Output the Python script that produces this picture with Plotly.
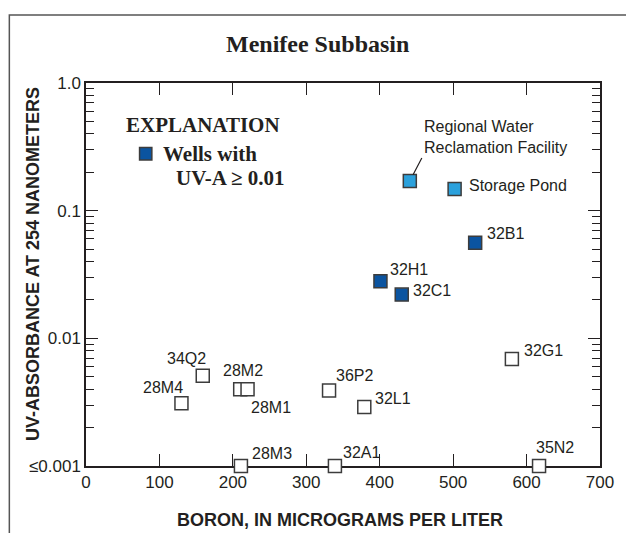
import math
import plotly.graph_objects as go

# ---- data -------------------------------------------------------------
# Wells with UV-A >= 0.01 (dark blue)
high_names = ["32H1", "32C1", "32B1"]
high_boron = [401, 430, 530]
high_uva = [0.028, 0.022, 0.056]

# Recycled-water sources (light blue)
src_names = ["Regional Water<br>Reclamation Facility", "Storage Pond"]
src_boron = [441, 502]
src_uva = [0.171, 0.148]

# Other wells (open squares); 0.001 means at or below 0.001
low_names = ["28M4", "34Q2", "28M2", "28M1", "36P2", "32L1", "32G1",
             "28M3", "32A1", "35N2"]
low_boron = [130, 159, 210, 220, 331, 379, 580, 211, 339, 617]
low_uva = [0.0031, 0.0051, 0.0040, 0.0040, 0.0039, 0.0029, 0.0069,
           0.001, 0.001, 0.001]

x_ticks = [0, 100, 200, 300, 400, 500, 600, 700]
y_ticks = [0.001, 0.01, 0.1, 1.0]
y_ticktext = ["\u22640.001", "0.01", "0.1", "1.0"]

# ---- styling ----------------------------------------------------------
W, H = 626, 533
L, R, T, B = 86, 609, 83, 466          # plot area in pixels
INK = "#231f20"
DARK_BLUE = "#0b54a0"
LIGHT_BLUE = "#2ba1dc"
SANS = "Liberation Sans Narrow, Arial Narrow, Liberation Sans, Arial"
SERIF = "Liberation Serif, Times New Roman, serif"


def px(p):
    return (p - L) / (R - L)


def py(p):
    return (B - p) / (B - T)


marker_line = dict(color="#3c3c3c", width=1.5)

fig = go.Figure()
fig.add_trace(go.Scatter(
    x=low_boron, y=low_uva, mode="markers", cliponaxis=False,
    marker=dict(symbol="square", size=13, color="white", line=marker_line),
    hoverinfo="skip", showlegend=False))
fig.add_trace(go.Scatter(
    x=src_boron, y=src_uva, mode="markers", cliponaxis=False,
    marker=dict(symbol="square", size=13, color=LIGHT_BLUE, line=marker_line),
    hoverinfo="skip", showlegend=False))
fig.add_trace(go.Scatter(
    x=high_boron, y=high_uva, mode="markers", cliponaxis=False,
    marker=dict(symbol="square", size=13, color=DARK_BLUE, line=marker_line),
    hoverinfo="skip", showlegend=False))

# label offsets (pixels) relative to each point: (anchor, dx, dy)
label_offsets = {
    "32H1": ("left", 8, 12), "32C1": ("left", 9, 4), "32B1": ("left", 10, 9),
    "Storage Pond": ("left", 12, 3),
    "28M4": ("right", 4, 16), "34Q2": ("right", 5, 17), "28M2": ("left", -19, 19),
    "28M1": ("left", 1, -18), "36P2": ("left", 5, 15), "32L1": ("left", 9, 8),
    "32G1": ("left", 10, 8), "28M3": ("left", 9, 13), "32A1": ("left", 6, 14),
    "35N2": ("left", -5, 19),
}
label_font = dict(family=SANS, size=16, color=INK)

annotations = []
# annotations on a log axis take log10 of the value
for names, xs, ys in [(high_names, high_boron, high_uva),
                      (low_names, low_boron, low_uva)]:
    for n, xv, yv in zip(names, xs, ys):
        anchor, dx, dy = label_offsets[n]
        annotations.append(dict(x=xv, y=math.log10(yv), xref="x", yref="y",
                                text=n, showarrow=False, xanchor=anchor,
                                yanchor="middle", xshift=dx, yshift=dy,
                                font=label_font))

# Storage Pond label
anchor, dx, dy = label_offsets["Storage Pond"]
annotations.append(dict(x=src_boron[1], y=math.log10(src_uva[1]),
                        xref="x", yref="y", text=src_names[1],
                        showarrow=False, xanchor=anchor, yanchor="middle",
                        xshift=dx, yshift=dy, font=label_font))
# Reclamation facility label with leader line
annotations.append(dict(x=src_boron[0], y=math.log10(src_uva[0]),
                        xref="x", yref="y", text=src_names[0],
                        showarrow=True, arrowhead=0, arrowwidth=1.2,
                        arrowcolor=INK, standoff=7, ax=12, ay=-23,
                        xanchor="left", yanchor="bottom", align="left",
                        font=label_font))

# title, axis titles and explanation
annotations += [
    dict(xref="paper", yref="paper", x=px(322), y=py(44), text="<b>Menifee Subbasin</b>",
         showarrow=False, xanchor="center", yanchor="middle",
         font=dict(family=SERIF, size=24, color=INK)),
    dict(xref="paper", yref="paper", x=px(344), y=py(520),
         text="<b>BORON, IN MICROGRAMS PER LITER</b>", showarrow=False,
         xanchor="center", yanchor="middle",
         font=dict(family=SANS, size=18, color=INK)),
    dict(xref="paper", yref="paper", x=px(32), y=py(264),
         text="<b>UV-ABSORBANCE AT 254 NANOMETERS</b>", showarrow=False,
         textangle=-90, xanchor="center", yanchor="middle",
         font=dict(family=SANS, size=18, color=INK)),
    dict(xref="paper", yref="paper", x=px(205), y=py(125), text="<b>EXPLANATION</b>",
         showarrow=False, xanchor="center", yanchor="middle",
         font=dict(family=SERIF, size=21, color=INK)),
    dict(xref="paper", yref="paper", x=px(162), y=py(154), text="<b>Wells with</b>",
         showarrow=False, xanchor="left", yanchor="middle",
         font=dict(family=SERIF, size=21, color=INK)),
    dict(xref="paper", yref="paper", x=px(176), y=py(178),
         text="<b>UV-A \u2265 0.01</b>", showarrow=False, xanchor="left",
         yanchor="middle", font=dict(family=SERIF, size=21, color=INK)),
]

shapes = [
    # outer frame
    dict(type="rect", xref="paper", yref="paper", x0=px(8), x1=px(640),
         y0=py(550), y1=py(15), line=dict(color="#555555", width=1.5),
         layer="below"),
    # explanation swatch
    dict(type="rect", xref="paper", yref="paper", x0=px(140.5), x1=px(153),
         y0=py(160), y1=py(147.5), fillcolor=DARK_BLUE,
         line=dict(color="#3c3c3c", width=1.5)),
]

minor_vals = [m * 10 ** e for e in (-3, -2, -1) for m in range(2, 10)]

axis_common = dict(showgrid=False, zeroline=False, showline=True,
                   linecolor=INK, linewidth=1.5, mirror="ticks",
                   ticks="inside", tickcolor=INK, tickwidth=1.2,
                   layer="below traces",
                   tickfont=dict(family=SANS, size=17, color=INK))

fig.update_layout(
    width=W, height=H,
    margin=dict(l=L, r=W - R, t=T, b=H - B, pad=0),
    paper_bgcolor="white", plot_bgcolor="white",
    showlegend=False,
    annotations=annotations, shapes=shapes,
    xaxis=dict(range=[0, 700], tickmode="array", tickvals=x_ticks,
               ticklen=12, **axis_common),
    yaxis=dict(type="log", range=[-3, 0], tickmode="array", tickvals=y_ticks,
               ticktext=y_ticktext, ticklen=12,
               minor=dict(tickmode="array", tickvals=minor_vals, ticks="inside",
                          ticklen=8, tickcolor=INK, tickwidth=1.2),
               **axis_common),
)

fig.write_html("out.html")
